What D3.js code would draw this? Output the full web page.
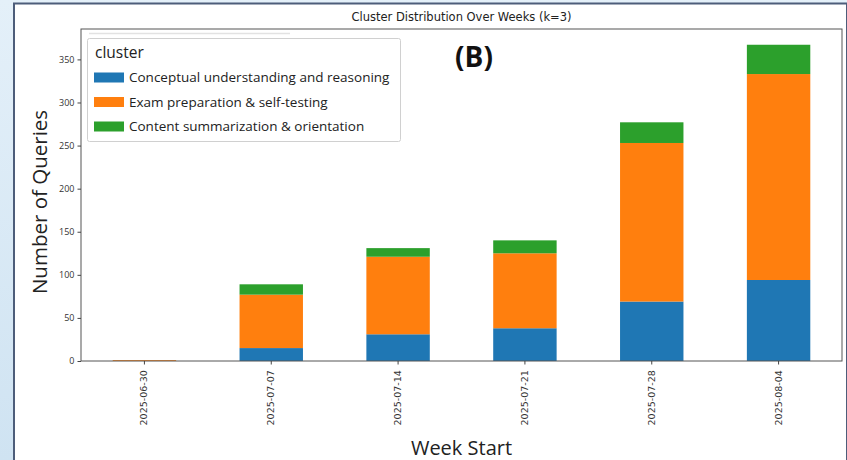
<!DOCTYPE html>
<html>
<head>
<meta charset="utf-8">
<script src="https://cdn.jsdelivr.net/npm/d3@7"></script>
<style>
  html, body { margin: 0; padding: 0; background: #ffffff; }
  svg { display: block; }
</style>
</head>
<body>
<svg id="chart" width="847" height="460"></svg>
<script>
// Weekly query counts per cluster (stacked)
const weeks = ["2025-06-30", "2025-07-07", "2025-07-14", "2025-07-21", "2025-07-28", "2025-08-04"];
const clusters = [
  "Conceptual understanding and reasoning",
  "Exam preparation & self-testing",
  "Content summarization & orientation"
];
const conceptual = [0, 15, 31, 38, 69, 94];
const examPrep   = [1, 62, 90, 87, 184, 239];
const summary    = [0, 12, 10, 15, 24, 34];
const clusterColors = ["#1f77b4", "#ff7f0e", "#2ca02c"];
const yTicks = [0, 50, 100, 150, 200, 250, 300, 350];

const rows = weeks.map((w, i) => ({
  week: w,
  [clusters[0]]: conceptual[i],
  [clusters[1]]: examPrep[i],
  [clusters[2]]: summary[i]
}));

const svg = d3.select("#chart");
const W = 847, H = 460;

// slide-style backdrop with a framed white panel
const bg = svg.append("defs").append("linearGradient")
  .attr("id", "bgGrad").attr("x1", 0).attr("x2", 0).attr("y1", 0).attr("y2", 1);
bg.append("stop").attr("offset", "0%").attr("stop-color", "#e4f0f9");
bg.append("stop").attr("offset", "100%").attr("stop-color", "#cfe3f2");
svg.append("rect").attr("width", W).attr("height", H).attr("fill", "url(#bgGrad)");
svg.append("rect").attr("x", 14).attr("y", 3.5).attr("width", W - 14).attr("height", H)
  .attr("fill", "#ffffff").attr("stroke", "#4d5d7a").attr("stroke-width", 2);

const m = { left: 81, right: 842, top: 29, bottom: 361 };

const x = d3.scaleBand().domain(weeks).range([m.left, m.right]).paddingInner(0.5).paddingOuter(0.25);
const y = d3.scaleLinear().domain([0, 350]).range([m.bottom, m.top + 30.4]);

const stack = d3.stack().keys(clusters);
const layers = stack(rows);

const g = svg.append("g");
g.selectAll("g.layer").data(layers).join("g")
  .attr("class", "layer")
  .attr("fill", (d, i) => clusterColors[i])
  .selectAll("rect").data(d => d).join("rect")
  .attr("x", d => x(d.data.week))
  .attr("width", x.bandwidth())
  .attr("y", d => y(d[1]))
  .attr("height", d => Math.max(0, y(d[0]) - y(d[1])));

// axes frame
svg.append("rect").attr("x", m.left).attr("y", m.top)
  .attr("width", m.right - m.left).attr("height", m.bottom - m.top)
  .attr("fill", "none").attr("stroke", "#555").attr("stroke-width", 1);

// y axis
const yAxis = svg.append("g").attr("transform", `translate(${m.left},0)`)
  .call(d3.axisLeft(y).tickValues(yTicks).tickSize(3.5).tickPadding(3));
yAxis.select(".domain").remove();
yAxis.selectAll("line").attr("stroke", "#444");
yAxis.selectAll("text").attr("fill", "#333")
  .style("font-family", "'Open Sans', sans-serif").style("font-size", "9px");

// x axis
const xAxis = svg.append("g").attr("transform", `translate(0,${m.bottom})`)
  .call(d3.axisBottom(x).tickSize(3.5).tickPadding(4));
xAxis.select(".domain").remove();
xAxis.selectAll("line").attr("stroke", "#444");
xAxis.selectAll("text")
  .attr("fill", "#333")
  .style("font-family", "'DejaVu Sans', sans-serif").style("font-size", "9.5px")
  .attr("transform", "rotate(-90)")
  .attr("text-anchor", "end")
  .attr("dx", "-0.55em").attr("dy", "0.32em").attr("y", 0).attr("x", -4);

// titles
const cx = (m.left + m.right) / 2;
svg.append("text").attr("x", cx).attr("y", 21).attr("text-anchor", "middle")
  .style("font-family", "'DejaVu Sans', sans-serif").style("font-size", "11.5px")
  .attr("fill", "#222").attr("textLength", 220).attr("lengthAdjust", "spacingAndGlyphs")
  .text("Cluster Distribution Over Weeks (k=3)");

svg.append("text").attr("x", 474).attr("y", 67).attr("text-anchor", "middle")
  .style("font-family", "'Open Sans', sans-serif").style("font-size", "28px")
  .style("font-weight", "bold").attr("fill", "#111").text("(B)");

svg.append("text").attr("x", cx).attr("y", 455).attr("text-anchor", "middle")
  .style("font-family", "'Open Sans', sans-serif").style("font-size", "20px")
  .attr("fill", "#222").text("Week Start");

svg.append("text").attr("transform", `translate(47,202) rotate(-90)`).attr("text-anchor", "middle")
  .style("font-family", "'Open Sans', sans-serif").style("font-size", "20.5px")
  .attr("fill", "#222").text("Number of Queries");

// legend
const lg = svg.append("g");
lg.append("line").attr("x1", 89).attr("x2", 290).attr("y1", 33.5).attr("y2", 33.5)
  .attr("stroke", "#e2e2e2").attr("stroke-width", 1.5);
lg.append("rect").attr("x", 87.5).attr("y", 38.5).attr("width", 313).attr("height", 103)
  .attr("rx", 2).attr("fill", "#ffffff").attr("fill-opacity", 0.9)
  .attr("stroke", "#d0d0d0").attr("stroke-width", 1);
lg.append("text").attr("x", 95).attr("y", 58)
  .style("font-family", "'Open Sans', sans-serif").style("font-size", "15.5px")
  .attr("fill", "#222").text("cluster");
const item = lg.selectAll("g.item").data(clusters).join("g")
  .attr("class", "item")
  .attr("transform", (d, i) => `translate(94,${77.5 + i * 24.5})`);
item.append("rect").attr("x", 0).attr("y", -5).attr("width", 30).attr("height", 10)
  .attr("fill", (d, i) => clusterColors[i]);
item.append("text").attr("x", 35).attr("y", 0).attr("dy", "0.35em")
  .style("font-family", "'Open Sans', sans-serif").style("font-size", "13.5px")
  .attr("fill", "#222").text(d => d);
</script>
</body>
</html>
